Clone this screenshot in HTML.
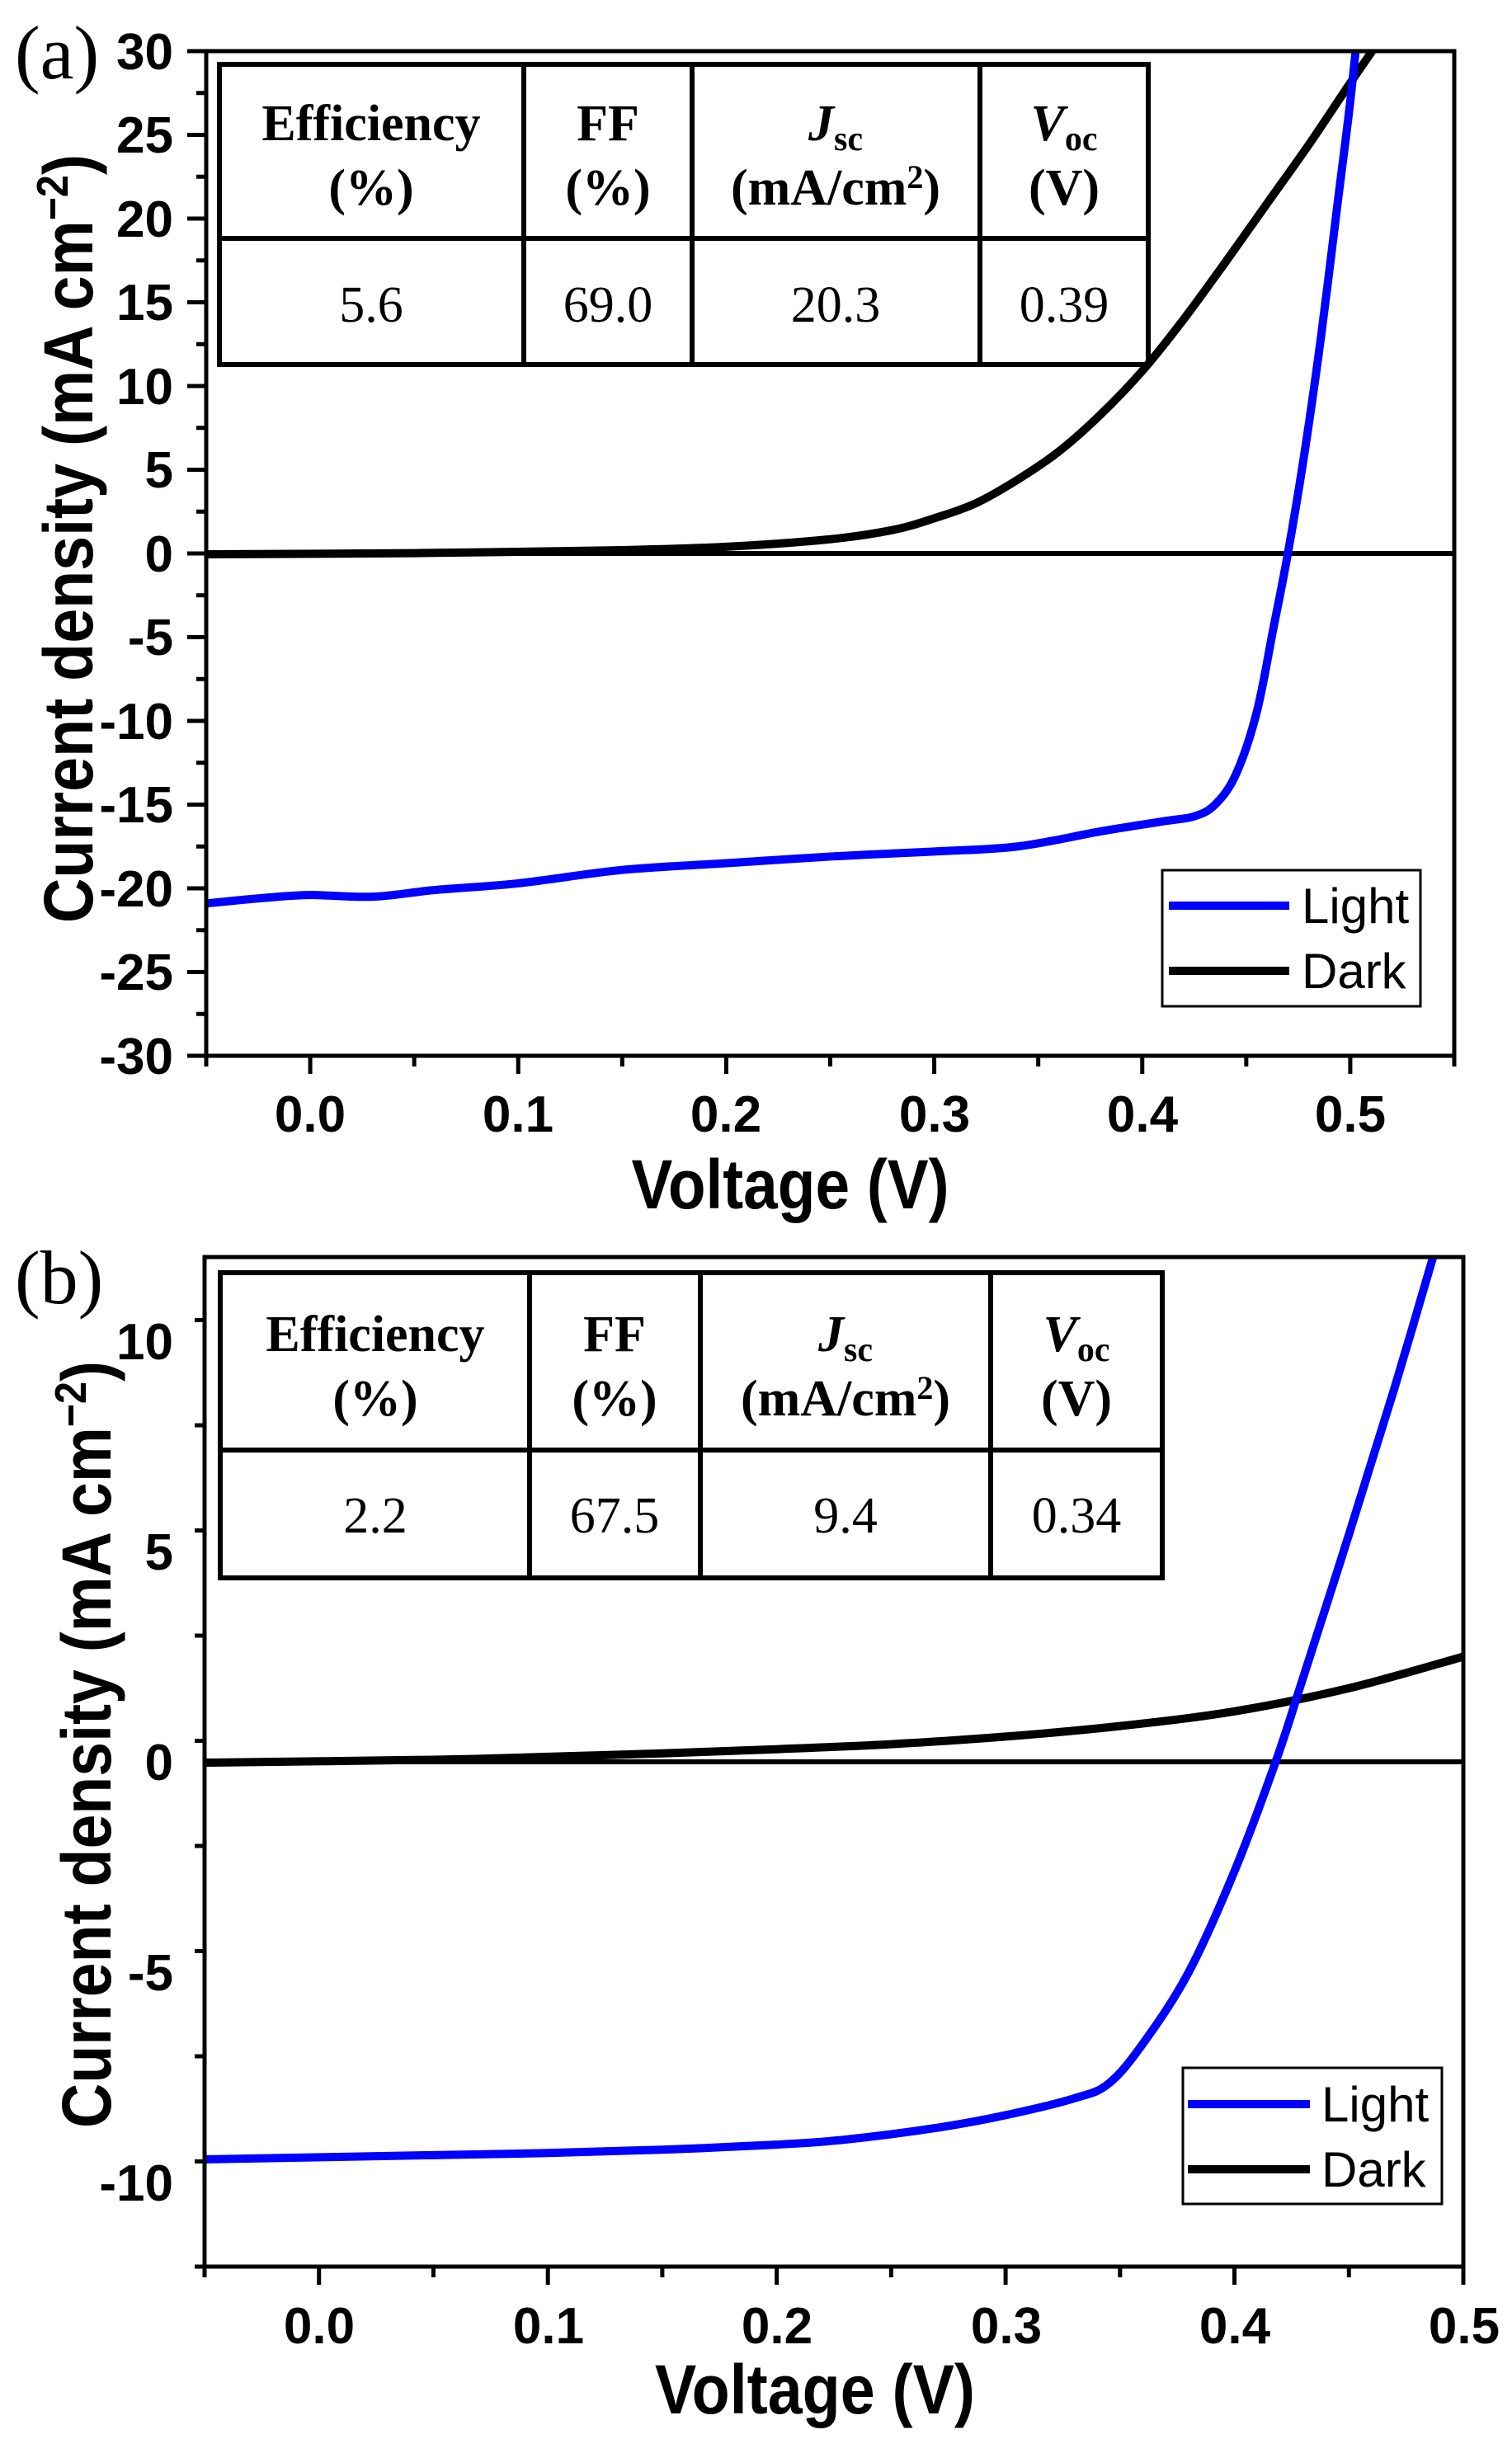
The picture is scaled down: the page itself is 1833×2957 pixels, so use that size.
<!DOCTYPE html>
<html><head><meta charset="utf-8">
<style>
html,body{margin:0;padding:0;background:#fff;}
svg{display:block;}
.tk{font-family:"Liberation Sans",Arial,sans-serif;font-weight:bold;font-size:62px;fill:#000;}
.ti{font-family:"Liberation Sans",Arial,sans-serif;font-weight:bold;font-size:84px;fill:#000;}
.tb{font-family:"Liberation Serif","Times New Roman",serif;font-size:62px;fill:#000;}
.lg{font-family:"Liberation Sans",Arial,sans-serif;font-size:60px;fill:#000;}
.pl{font-family:"Liberation Serif","Times New Roman",serif;font-size:92px;fill:#000;}
</style></head>
<body>
<svg id="s" width="1833" height="2957" viewBox="0 0 1833 2957" xmlns="http://www.w3.org/2000/svg">
<rect width="1833" height="2957" fill="#fff"/>
<g id="dyn"></g>

<text class="pl" x="18" y="95">(a)</text>
<g class="tk" text-anchor="end">
<text x="210" y="84">30</text><text x="210" y="185">25</text><text x="210" y="287">20</text>
<text x="210" y="388">15</text><text x="210" y="490">10</text><text x="210" y="591">5</text>
<text x="210" y="693">0</text><text x="210" y="794">-5</text><text x="210" y="896">-10</text>
<text x="210" y="997">-15</text><text x="210" y="1099">-20</text><text x="210" y="1200">-25</text>
<text x="210" y="1302">-30</text>
</g>
<g class="tk" text-anchor="middle">
<text x="376" y="1372">0.0</text><text x="628" y="1372">0.1</text><text x="880" y="1372">0.2</text>
<text x="1133" y="1372">0.3</text><text x="1385" y="1372">0.4</text><text x="1637" y="1372">0.5</text>
</g>
<text class="ti" x="958" y="1465" text-anchor="middle" textLength="385" lengthAdjust="spacingAndGlyphs">Voltage (V)</text>
<text class="ti" transform="translate(112,653) rotate(-90)" text-anchor="middle" textLength="932" lengthAdjust="spacingAndGlyphs">Current density (mA cm<tspan dy="-30" font-size="54">−2</tspan><tspan dy="30">)</tspan></text>

<g fill="none" stroke="#000" stroke-width="6">
<rect x="266" y="78" width="1126" height="364"/>
<line x1="266" y1="289" x2="1392" y2="289"/>
<line x1="635" y1="78" x2="635" y2="442"/>
<line x1="839" y1="78" x2="839" y2="442"/>
<line x1="1188" y1="78" x2="1188" y2="442"/>
</g>
<g class="tb" text-anchor="middle" font-weight="bold">
<text x="450" y="170">Efficiency</text><text x="450" y="248">(%)</text>
<text x="737" y="170">FF</text><text x="737" y="248">(%)</text>
<text x="1013" y="170"><tspan font-style="italic">J</tspan><tspan font-size="42" dy="12">sc</tspan></text>
<text x="1013" y="248">(mA/cm<tspan font-size="40" dy="-20">2</tspan><tspan dy="20">)</tspan></text>
<text x="1290" y="170"><tspan font-style="italic">V</tspan><tspan font-size="42" dy="12">oc</tspan></text>
<text x="1290" y="248">(V)</text>
</g>
<g class="tb" text-anchor="middle">
<text x="450" y="390">5.6</text><text x="737" y="390">69.0</text>
<text x="1013" y="390">20.3</text><text x="1290" y="390">0.39</text>
</g>

<rect x="1409" y="1055" width="313" height="165" fill="#fff" stroke="#000" stroke-width="3"/>
<line x1="1417" y1="1098" x2="1563" y2="1098" stroke="#0000ff" stroke-width="10"/>
<line x1="1417" y1="1177" x2="1563" y2="1177" stroke="#000" stroke-width="10"/>
<text class="lg" x="1578" y="1119">Light</text>
<text class="lg" x="1578" y="1198">Dark</text>

<text class="pl" x="18" y="1580">(b)</text>
<g class="tk" text-anchor="end">
<text x="210" y="1648">10</text><text x="210" y="1903">5</text><text x="210" y="2158">0</text>
<text x="210" y="2413">-5</text><text x="210" y="2668">-10</text>
</g>
<g class="tk" text-anchor="middle">
<text x="387" y="2841">0.0</text><text x="665" y="2841">0.1</text><text x="942" y="2841">0.2</text>
<text x="1220" y="2841">0.3</text><text x="1497" y="2841">0.4</text><text x="1775" y="2841">0.5</text>
</g>
<text class="ti" x="988" y="2926" text-anchor="middle" textLength="388" lengthAdjust="spacingAndGlyphs">Voltage (V)</text>
<text class="ti" transform="translate(134,2115) rotate(-90)" text-anchor="middle" textLength="930" lengthAdjust="spacingAndGlyphs">Current density (mA cm<tspan dy="-30" font-size="54">−2</tspan><tspan dy="30">)</tspan></text>

<g fill="none" stroke="#000" stroke-width="6">
<rect x="267" y="1543" width="1142" height="370"/>
<line x1="267" y1="1758" x2="1409" y2="1758"/>
<line x1="642" y1="1543" x2="642" y2="1913"/>
<line x1="849" y1="1543" x2="849" y2="1913"/>
<line x1="1201" y1="1543" x2="1201" y2="1913"/>
</g>
<g class="tb" text-anchor="middle" font-weight="bold">
<text x="455" y="1638">Efficiency</text><text x="455" y="1716">(%)</text>
<text x="745" y="1638">FF</text><text x="745" y="1716">(%)</text>
<text x="1025" y="1638"><tspan font-style="italic">J</tspan><tspan font-size="42" dy="12">sc</tspan></text>
<text x="1025" y="1716">(mA/cm<tspan font-size="40" dy="-20">2</tspan><tspan dy="20">)</tspan></text>
<text x="1305" y="1638"><tspan font-style="italic">V</tspan><tspan font-size="42" dy="12">oc</tspan></text>
<text x="1305" y="1716">(V)</text>
</g>
<g class="tb" text-anchor="middle">
<text x="455" y="1858">2.2</text><text x="745" y="1858">67.5</text>
<text x="1025" y="1858">9.4</text><text x="1305" y="1858">0.34</text>
</g>

<rect x="1434" y="2507" width="314" height="165" fill="#fff" stroke="#000" stroke-width="3"/>
<line x1="1440" y1="2551" x2="1588" y2="2551" stroke="#0000ff" stroke-width="10"/>
<line x1="1440" y1="2630" x2="1588" y2="2630" stroke="#000" stroke-width="10"/>
<text class="lg" x="1602" y="2572">Light</text>
<text class="lg" x="1602" y="2651">Dark</text>
</svg>
<script>
(function(){
var NS="http://www.w3.org/2000/svg", g=document.getElementById('dyn');
function el(n,a){var e=document.createElementNS(NS,n);for(var k in a)e.setAttribute(k,a[k]);g.appendChild(e);return e;}
function path(pts,X,Y,col,clip){
  var p=pts.map(function(q){return [X(q[0]),Y(q[1])];});
  var d="M"+p[0][0]+","+p[0][1];
  for(var i=0;i<p.length-1;i++){
    var p0=p[i-1]||p[i],p1=p[i],p2=p[i+1],p3=p[i+2]||p2;
    var c1=[p1[0]+(p2[0]-p0[0])/6,p1[1]+(p2[1]-p0[1])/6];
    var c2=[p2[0]-(p3[0]-p1[0])/6,p2[1]-(p3[1]-p1[1])/6];
    d+=" C"+c1+" "+c2+" "+p2;
  }
  el('path',{d:d,fill:'none',stroke:col,'stroke-width':10,'stroke-linejoin':'round','clip-path':clip});
}
function panel(o){
  var X=function(v){return o.l+(v-o.x0)/(o.x1-o.x0)*(o.r-o.l);};
  var Y=function(v){return o.t+(o.y1-v)/(o.y1-o.y0)*(o.b-o.t);};
  var cp=el('clipPath',{id:o.id});
  var cr=document.createElementNS(NS,'rect');
  cr.setAttribute('x',o.l);cr.setAttribute('y',o.t);cr.setAttribute('width',o.r-o.l);cr.setAttribute('height',o.b-o.t);
  cp.appendChild(cr);
  el('line',{x1:o.l,y1:Y(0),x2:o.r,y2:Y(0),stroke:'#000','stroke-width':6});
  path(o.dark,X,Y,'#000','url(#'+o.id+')');
  path(o.light,X,Y,'#0000ff','url(#'+o.id+')');
  el('rect',{x:o.l,y:o.t,width:o.r-o.l,height:o.b-o.t,fill:'none',stroke:'#000','stroke-width':5});
  for(var i=0;;i++){var v=o.x0+i*0.05; if(v>o.x1+1e-6)break;
    var maj=Math.abs(Math.round(v*10)-v*10)<1e-6;
    el('line',{x1:X(v),y1:o.b,x2:X(v),y2:o.b+(maj?22:13),stroke:'#000','stroke-width':5});}
  for(var v=o.y0;v<=o.y1+1e-6;v+=2.5){
    var maj=Math.abs(v%5)<1e-6;
    el('line',{x1:o.l,y1:Y(v),x2:o.l-(maj?23:12),y2:Y(v),stroke:'#000','stroke-width':5});}
}
panel({id:'ca',l:250,r:1763,t:62,b:1280,x0:-0.05,x1:0.55,y0:-30,y1:30,
 light:[[-0.05,-20.9],[-0.02,-20.55],[0,-20.4],[0.03,-20.5],[0.06,-20.1],[0.1,-19.7],[0.15,-18.9],[0.2,-18.5],[0.25,-18.1],[0.3,-17.8],[0.34,-17.5],[0.38,-16.6],[0.41,-16.0],[0.425,-15.7],[0.435,-15.0],[0.445,-13.2],[0.455,-9.5],[0.463,-4.5],[0.47,0],[0.478,6],[0.486,13],[0.494,21],[0.5,27],[0.505,33]],
 dark:[[-0.05,-0.05],[0.05,0.02],[0.1,0.1],[0.15,0.2],[0.2,0.4],[0.25,0.85],[0.28,1.4],[0.3,2.1],[0.32,3.0],[0.34,4.4],[0.36,6.1],[0.38,8.3],[0.4,10.9],[0.42,14.0],[0.44,17.4],[0.46,20.9],[0.48,24.4],[0.5,28.1],[0.515,30.8]]});
panel({id:'cb',l:248,r:1774,t:1524,b:2748,x0:-0.05,x1:0.5,y0:-12,y1:12,
 light:[[-0.05,-9.45],[0.05,-9.35],[0.1,-9.3],[0.15,-9.22],[0.2,-9.1],[0.23,-8.98],[0.27,-8.7],[0.3,-8.4],[0.33,-8.0],[0.345,-7.65],[0.36,-6.7],[0.38,-5.0],[0.4,-2.6],[0.418,0],[0.43,2.0],[0.45,5.4],[0.47,8.9],[0.49,12.6]],
 dark:[[-0.05,-0.02],[0.05,0.05],[0.1,0.12],[0.15,0.2],[0.2,0.3],[0.25,0.42],[0.3,0.6],[0.35,0.85],[0.4,1.2],[0.45,1.75],[0.5,2.5]]});
})();
</script>
</body></html>
